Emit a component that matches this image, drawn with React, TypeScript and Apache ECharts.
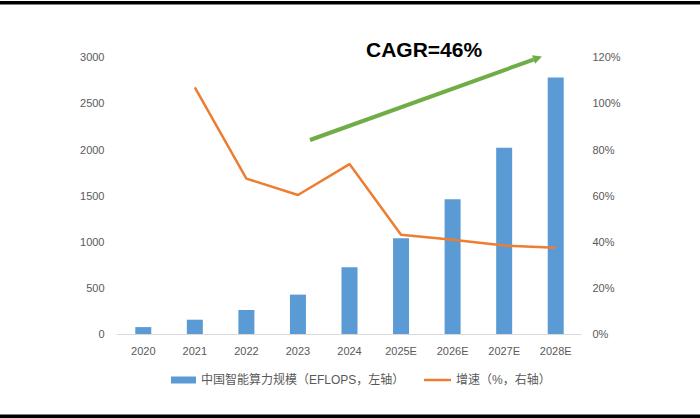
import React, { useEffect, useRef } from 'react';
import * as echarts from 'echarts';

const years = ['2020', '2021', '2022', '2023', '2024', '2025E', '2026E', '2027E', '2028E'];
const computeScale = [75, 155, 260, 427, 725, 1037, 1460, 2020, 2781];
const growthRate = [null, 107, 67.4, 60.3, 73.7, 43.0, 40.9, 38.4, 37.4];
const leftTicks = [0, 3000, 500];
const rightTicks = [0, 120, 20];

const barName = '中国智能算力规模（EFLOPS，左轴）';
const lineName = '增速（%，右轴）';

const font = '"Liberation Sans", Arial, sans-serif';
const cjkFont = '"Liberation Sans", "Noto Sans CJK SC", sans-serif';

const App: React.FC = () => {
    const chartRef = useRef<HTMLDivElement>(null);

    useEffect(() => {
        if (!chartRef.current) return;
        const chart = echarts.init(chartRef.current, undefined, { renderer: 'svg' });

        // arrow from (310,140) towards (542,56.5)
        const tip = [542, 56.5];
        const start = [310, 140];
        const dx = tip[0] - start[0];
        const dy = tip[1] - start[1];
        const len = Math.sqrt(dx * dx + dy * dy);
        const ux = dx / len;
        const uy = dy / len;
        const base = [tip[0] - 9 * ux, tip[1] - 9 * uy];
        const half = 4.5;

        const legendText = { fontFamily: cjkFont, fontSize: 12, color: '#595959' };

        const option: echarts.EChartsOption = {
            animation: false,
            backgroundColor: '#fff',
            grid: { left: 117.5, right: 118.5, top: 57.3, bottom: 84 },
            legend: [
                {
                    left: 166,
                    top: 369,
                    itemWidth: 25,
                    itemHeight: 7,
                    itemGap: 4,
                    textStyle: legendText,
                    data: [{ name: barName, icon: 'rect' }],
                },
                {
                    left: 419,
                    top: 369,
                    itemWidth: 27,
                    itemHeight: 2.5,
                    textStyle: legendText,
                    data: [{ name: lineName, icon: 'rect' }],
                },
            ],
            xAxis: {
                type: 'category',
                data: years,
                axisLine: { lineStyle: { color: '#D9D9D9', width: 1 } },
                axisTick: { show: false },
                axisLabel: { color: '#595959', fontSize: 11, fontFamily: font, margin: 11 },
            },
            yAxis: [
                {
                    type: 'value',
                    min: leftTicks[0],
                    max: leftTicks[1],
                    interval: leftTicks[2],
                    splitLine: { show: false },
                    axisLine: { show: false },
                    axisTick: { show: false },
                    axisLabel: {
                        color: '#595959',
                        fontSize: 11,
                        fontFamily: font,
                        margin: 13,
                        formatter: (v: number) => String(v),
                    },
                },
                {
                    type: 'value',
                    min: rightTicks[0],
                    max: rightTicks[1],
                    interval: rightTicks[2],
                    splitLine: { show: false },
                    axisLine: { show: false },
                    axisTick: { show: false },
                    axisLabel: {
                        color: '#595959',
                        fontSize: 11,
                        fontFamily: font,
                        margin: 11,
                        formatter: '{value}%',
                    },
                },
            ],
            series: [
                {
                    name: barName,
                    type: 'bar',
                    data: computeScale,
                    barWidth: 16,
                    itemStyle: { color: '#5B9BD5' },
                },
                {
                    name: lineName,
                    type: 'line',
                    yAxisIndex: 1,
                    data: growthRate,
                    symbol: 'none',
                    lineStyle: { color: '#ED7D31', width: 2.5 },
                    itemStyle: { color: '#ED7D31' },
                },
            ],
            graphic: [
                { type: 'rect', shape: { x: 0, y: 1, width: 700, height: 3.5 }, style: { fill: '#000' } },
                { type: 'rect', shape: { x: 0, y: 414.5, width: 700, height: 3.5 }, style: { fill: '#000' } },
                {
                    type: 'line',
                    shape: { x1: start[0], y1: start[1], x2: base[0], y2: base[1] },
                    style: { stroke: '#70AD47', lineWidth: 4 },
                },
                {
                    type: 'polygon',
                    shape: {
                        points: [
                            tip,
                            [base[0] - half * uy, base[1] + half * ux],
                            [base[0] + half * uy, base[1] - half * ux],
                        ],
                    },
                    style: { fill: '#70AD47' },
                },
                {
                    type: 'text',
                    x: 366,
                    y: 49,
                    style: {
                        text: 'CAGR=46%',
                        fontFamily: font,
                        fontWeight: 'bold',
                        fontSize: 21,
                        fill: '#000',
                        textVerticalAlign: 'middle',
                    },
                },
            ],
        };

        chart.setOption(option);
        return () => chart.dispose();
    }, []);

    return (
        <div
            ref={chartRef}
            style={{ position: 'fixed', left: 0, top: 0, width: 700, height: 418 }}
        />
    );
};

export default App;
